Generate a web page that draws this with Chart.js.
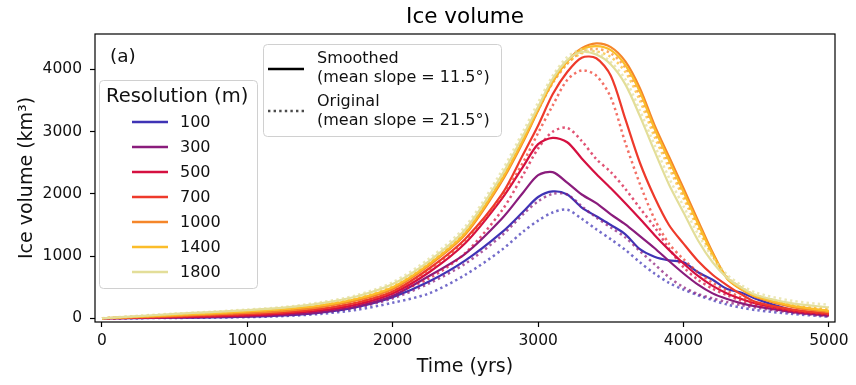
<!DOCTYPE html>
<html>
<head>
<meta charset="utf-8">
<script src="https://cdn.jsdelivr.net/npm/chart.js@4.4.1/dist/chart.umd.min.js"></script>
<style>
html,body{margin:0;padding:0;background:#fff;}
#wrap{width:856px;height:385px;position:relative;}
</style>
</head>
<body>
<div id="wrap"><canvas id="c" width="856" height="385"></canvas></div>
<script>
// ---- data ----
const times = [0,250,500,750,1000,1250,1500,1750,2000,2250,2500,2750,2900,3000,3100,3200,3300,3400,3500,3600,3700,3800,3900,4000,4100,4200,4300,4400,4500,4750,5000];
const resolutions = ['100','300','500','700','1000','1400','1800'];

const smooth100 = [0,3,8,14,24,45,90,180,340, 590,930,1380,1720,1950,2040,1990,1780,1640,1500,1350,1110,990,930,900,740,620,470,410,310,130,55];
const orig100   = [0,2,5,10,18,35,70,135,250, 400,700,1100,1400,1570,1700,1745,1600,1430,1270,1100,900,720,570,460,370,290,220,170,130,70,25];
const smooth300 = [0,5,12,20,32,55,100,190,360, 680,1040,1600,2030,2300,2350,2180,1990,1850,1670,1510,1320,1130,920,720,540,400,310,240,190,100,40];
const orig300   = [0,5,12,20,30,50,90,170,320, 560,880,1330,1680,1880,2000,1990,1800,1620,1460,1300,1080,870,660,500,390,320,260,210,170,90,30];
const smooth500 = [0,8,18,30,48,75,125,220,400, 740,1210,1920,2450,2800,2900,2830,2570,2320,2090,1850,1600,1340,1100,880,680,520,400,310,235,120,65];
const orig500   = [0,9,20,33,52,80,130,225,400, 640,1050,1730,2320,2730,3000,3060,2850,2560,2350,2080,1770,1470,1120,820,620,475,370,280,210,110,55];
const smooth700 = [0,12,28,45,65,95,150,250,430, 800,1280,1990,2650,3100,3600,3960,4190,4180,3900,3200,2500,1950,1500,1200,920,700,530,380,260,140,75];
const orig700   = [0,14,30,48,70,100,155,255,440, 780,1250,1950,2520,2980,3420,3830,3985,3900,3550,2820,2160,1600,1200,950,740,570,440,330,240,130,70];
const smooth1000= [0,20,40,62,85,120,180,285,470, 850,1350,2200,2850,3340,3800,4130,4340,4420,4360,4130,3700,3110,2600,2090,1570,1060,640,460,340,180,100];
const orig1000  = [0,20,45,68,92,128,190,295,485, 880,1380,2240,2880,3350,3780,4090,4280,4330,4260,4030,3580,3000,2490,1990,1490,1020,650,480,350,200,130];
const smooth1400= [0,25,55,80,110,145,205,310,500, 870,1370,2230,2880,3360,3810,4130,4320,4375,4310,4070,3640,3050,2540,2030,1520,1030,640,470,350,200,120];
const orig1400  = [0,30,60,85,115,150,215,325,520, 900,1400,2260,2900,3380,3800,4100,4260,4290,4200,3960,3500,2920,2420,1930,1440,1000,660,490,370,220,150];
const smooth1800= [0,35,70,100,130,170,240,350,550, 920,1430,2300,2950,3400,3850,4150,4280,4240,4080,3760,3250,2690,2150,1700,1250,900,650,490,370,240,175];
const orig1800  = [0,40,75,105,140,180,255,370,580, 960,1480,2370,3020,3470,3900,4200,4320,4280,4120,3840,3340,2790,2260,1800,1350,980,700,530,410,280,215];

const xTicks = [0,1000,2000,3000,4000,5000];
const yTicks = [0,1000,2000,3000,4000];
const chartTitle = 'Ice volume';
const xTitle = 'Time (yrs)';
const yTitle = 'Ice volume (km\u00B3)';
const panelLabel = '(a)';
const legendTitle = 'Resolution (m)';
const styleLabels = [['Smoothed','(mean slope = 11.5\u00B0)'],['Original','(mean slope = 21.5\u00B0)']];

// ---- styling ----
const colors = ['#3f33b5','#8a1c7c','#d51040','#ee3a2b','#f5862a','#fbbd2a','#e3de99'];
function rgba(hex,a){const n=parseInt(hex.slice(1),16);return `rgba(${n>>16},${(n>>8)&255},${n&255},${a})`;}
const smoothSeries = [smooth100,smooth300,smooth500,smooth700,smooth1000,smooth1400,smooth1800];
const origSeries   = [orig100,orig300,orig500,orig700,orig1000,orig1400,orig1800];

const datasets = [];
resolutions.forEach((r,i)=>{
  datasets.push({label:r+' smoothed', data: times.map((t,k)=>({x:t,y:smoothSeries[i][k]})),
    borderColor: colors[i], borderWidth: 2.2, pointRadius:0, fill:false, tension:0.3});
  datasets.push({label:r+' original', data: times.map((t,k)=>({x:t,y:origSeries[i][k]})),
    borderColor: rgba(colors[i],0.72), borderWidth: 2.5, borderDash:[2.4,3.2], borderCapStyle:'butt',
    pointRadius:0, fill:false, tension:0.3});
});
datasets.reverse(); // first dataset is drawn on top in Chart.js

const FONT = "'DejaVu Sans', sans-serif";
const TXT = '#111';

function rrect(ctx,x,y,w,h,r){
  ctx.beginPath();
  ctx.moveTo(x+r,y);ctx.lineTo(x+w-r,y);ctx.quadraticCurveTo(x+w,y,x+w,y+r);
  ctx.lineTo(x+w,y+h-r);ctx.quadraticCurveTo(x+w,y+h,x+w-r,y+h);
  ctx.lineTo(x+r,y+h);ctx.quadraticCurveTo(x,y+h,x,y+h-r);
  ctx.lineTo(x,y+r);ctx.quadraticCurveTo(x,y,x+r,y);ctx.closePath();
}

const decor = {
  id:'decor',
  afterDatasetsDraw(chart){
    const {ctx, chartArea:a} = chart;
    ctx.save();
    ctx.strokeStyle='#000'; ctx.lineWidth=1.2;
    ctx.strokeRect(a.left, a.top, a.right-a.left, a.bottom-a.top);
    ctx.restore();
  },
  afterDraw(chart){
    const {ctx, chartArea:a} = chart;
    ctx.save();
    // title
    ctx.fillStyle='#000'; ctx.font=`21.5px ${FONT}`; ctx.textAlign='center'; ctx.textBaseline='middle';
    ctx.fillText(chartTitle,(a.left+a.right)/2,17);
    // panel label
    ctx.fillStyle=TXT; ctx.font=`18.5px ${FONT}`; ctx.textAlign='left';
    ctx.fillText(panelLabel,110,57);
    // resolution legend
    rrect(ctx,99.5,80.5,158,208,4);
    ctx.fillStyle='rgba(255,255,255,0.85)'; ctx.fill();
    ctx.strokeStyle='#d0d0d0'; ctx.lineWidth=1; ctx.stroke();
    ctx.fillStyle=TXT; ctx.font=`19.5px ${FONT}`; ctx.textAlign='left'; ctx.textBaseline='middle';
    ctx.fillText(legendTitle,106,97);
    ctx.font=`16px ${FONT}`;
    resolutions.forEach((r,i)=>{
      const y=122+i*25;
      ctx.strokeStyle=colors[i]; ctx.lineWidth=2.6; ctx.setLineDash([]);
      ctx.beginPath(); ctx.moveTo(132,y); ctx.lineTo(168,y); ctx.stroke();
      ctx.fillStyle=TXT; ctx.fillText(r,180,y+1);
    });
    // style legend
    rrect(ctx,263.5,44.5,238,92,4);
    ctx.fillStyle='rgba(255,255,255,0.85)'; ctx.fill();
    ctx.strokeStyle='#d0d0d0'; ctx.lineWidth=1; ctx.stroke();
    ctx.strokeStyle='#000'; ctx.lineWidth=2.6;
    ctx.beginPath(); ctx.moveTo(268,69); ctx.lineTo(304,69); ctx.stroke();
    ctx.strokeStyle='rgba(0,0,0,0.7)'; ctx.setLineDash([2.4,3.2]);
    ctx.beginPath(); ctx.moveTo(268,111); ctx.lineTo(304,111); ctx.stroke();
    ctx.setLineDash([]);
    ctx.fillStyle=TXT; ctx.font=`16px ${FONT}`;
    ctx.fillText(styleLabels[0][0],317,59);
    ctx.fillText(styleLabels[0][1],317,78);
    ctx.fillText(styleLabels[1][0],317,102);
    ctx.fillText(styleLabels[1][1],317,121);
    ctx.restore();
  }
};

new Chart(document.getElementById('c'),{
  type:'line',
  data:{datasets},
  options:{
    responsive:false, animation:false, devicePixelRatio:1,
    layout:{padding:{left:0,right:21,top:34,bottom:0}},
    plugins:{legend:{display:false},tooltip:{enabled:false},title:{display:false}},
    scales:{
      x:{type:'linear',min:-48,max:5042,
        afterFit(s){s.height=63;},
        afterBuildTicks(s){s.ticks=xTicks.map(v=>({value:v}));},
        border:{display:false},
        grid:{drawOnChartArea:false,drawTicks:true,tickLength:5,tickColor:'#000',tickWidth:1.2},
        ticks:{font:{family:FONT,size:15.5},color:TXT,padding:5,maxRotation:0,autoSkip:false,callback:v=>String(v)},
        title:{display:true,text:xTitle,font:{family:FONT,size:19},color:TXT,padding:{top:0,bottom:7}}
      },
      y:{type:'linear',min:-60,max:4570,
        afterFit(s){s.width=95;},
        afterBuildTicks(s){s.ticks=yTicks.map(v=>({value:v}));},
        border:{display:false},
        grid:{drawOnChartArea:false,drawTicks:true,tickLength:5,tickColor:'#000',tickWidth:1.2},
        ticks:{font:{family:FONT,size:15.5},color:TXT,padding:8,autoSkip:false,callback:v=>String(v)},
        title:{display:true,text:yTitle,font:{family:FONT,size:19},color:TXT,padding:{top:16,bottom:0}}
      }
    }
  },
  plugins:[decor]
});
</script>
</body>
</html>
